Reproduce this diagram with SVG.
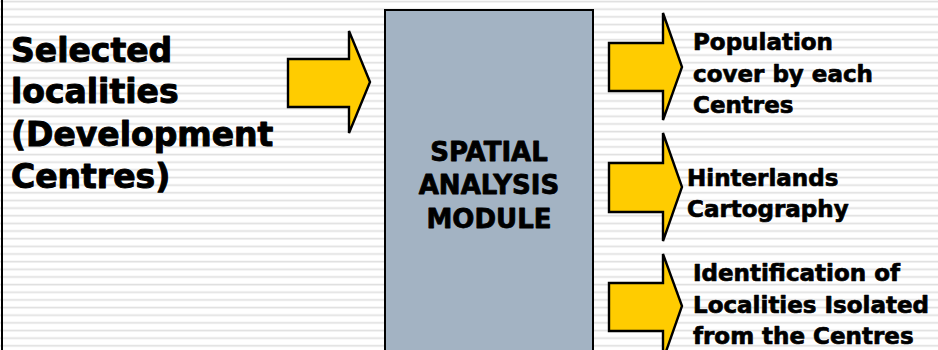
<svg xmlns="http://www.w3.org/2000/svg" width="938" height="350" viewBox="0 0 938 350">
<style>
.arrow{fill:#ffcc00;stroke:#000;stroke-width:2.4;stroke-linejoin:miter}
.t{font-family:"DejaVu Sans",Verdana,sans-serif;font-weight:bold;fill:#000;stroke:#000;stroke-linejoin:round}
.left{font-size:33px;stroke-width:1}
.mid{font-size:26px;text-anchor:middle;stroke-width:0.8}
.right{font-size:23px;stroke-width:0.7}
</style>
<defs>
<pattern id="stripes" patternUnits="userSpaceOnUse" x="0" y="0" width="938" height="7.65">
<rect x="0" y="0.7" width="938" height="1.7" fill="#e0e0e0"/>
</pattern>
</defs>
<rect x="0" y="0" width="938" height="350" fill="#ffffff"/>
<rect x="0" y="0" width="938" height="350" fill="url(#stripes)"/>
<rect x="1" y="0" width="2" height="350" fill="#000"/>
<g id="input">
<text class="t left" x="11" y="62">Selected</text>
<text class="t left" x="11" y="103">localities</text>
<text class="t left" x="11" y="146">(Development</text>
<text class="t left" x="11" y="188">Centres)</text>
</g>
<g id="module">
<rect x="385" y="10" width="208" height="360" fill="#a3b3c3" stroke="#000" stroke-width="2"/>
<text class="t mid" x="489" y="161">SPATIAL</text>
<text class="t mid" x="489" y="194">ANALYSIS</text>
<text class="t mid" x="489" y="228">MODULE</text>
</g>
<g id="connectors">
<polygon class="arrow" points="288,59 349,59 349,31 370,82 349,133 349,107 288,107"/>
<polygon class="arrow" points="609,43 663,43 663,13 682,67 663,120 663,91 609,91"/>
<polygon class="arrow" points="609,163 663,163 663,133 682,187 663,241 663,212 609,212"/>
<polygon class="arrow" points="609,283 663,283 663,254 682,306 663,360 663,331 609,331"/>
</g>
<g id="output1">
<text class="t right" x="693" y="50">Population</text>
<text class="t right" x="693" y="82">cover by each</text>
<text class="t right" x="693" y="113">Centres</text>
</g>
<g id="output2">
<text class="t right" x="687" y="186">Hinterlands</text>
<text class="t right" x="687" y="217">Cartography</text>
</g>
<g id="output3">
<text class="t right" x="693" y="281">Identification of</text>
<text class="t right" x="693" y="313">Localities Isolated</text>
<text class="t right" x="693" y="344">from the Centres</text>
</g>
</svg>
